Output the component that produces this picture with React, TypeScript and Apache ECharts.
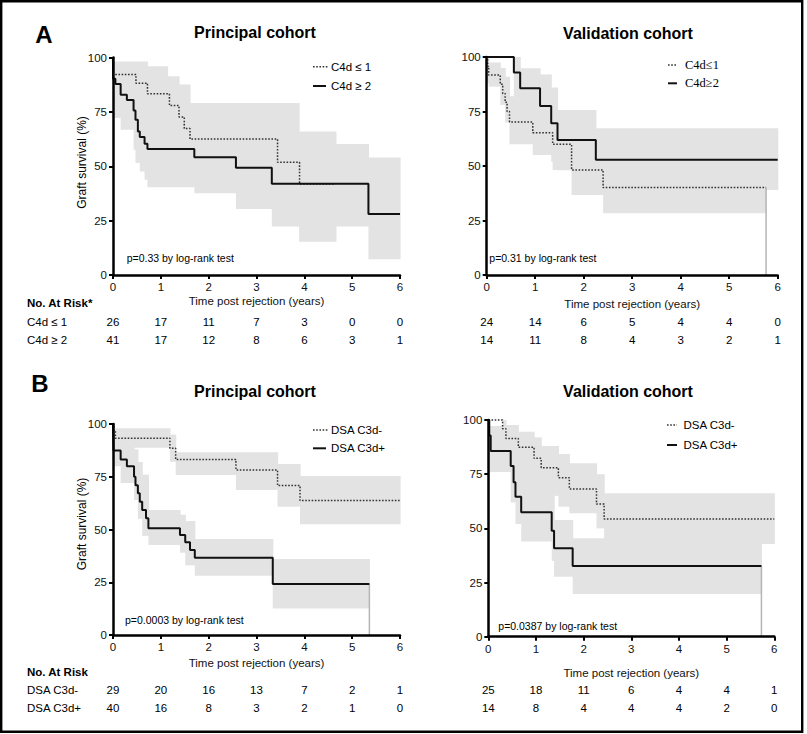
import React, { useEffect, useRef } from "react";
import * as echarts from "echarts";

// ---------- data ----------
const xTicks = [0, 1, 2, 3, 4, 5, 6];
const xTickLabels = ["0", "1", "2", "3", "4", "5", "6"];
const yTickLabels = ["0", "25", "50", "75", "100"];

// Panel A – principal cohort
const aPrinC4dLow = [[0, 100], [0, 92.2], [0.48, 88.2], [0.72, 83.3], [1.18, 77.9], [1.38, 72.7], [1.49, 67.3], [1.61, 62.5], [3.44, 51.8], [3.9, 41.8], [4.64, 41.8]];
const aPrinC4dHigh = [[0, 100], [0, 90.2], [0.05, 87.8], [0.16, 82.9], [0.29, 80.5], [0.43, 75.6], [0.47, 71.4], [0.52, 66], [0.56, 63.4], [0.66, 60.4], [0.72, 57.9], [1.7, 54.1], [2.57, 49.3], [3.32, 42], [5.34, 28], [6, 28]];
const aPrinBandLow = [[0, 0.48, 74, 98.2], [0.48, 0.72, 68, 98.2], [0.72, 1.14, 64, 96], [1.14, 1.38, 58, 91.4], [1.38, 1.61, 52, 87.6], [1.61, 3.44, 42, 79.1], [3.44, 3.89, 31, 79.1], [3.89, 4.66, 15.3, 66]];
const aPrinBandHigh = [[0, 0.16, 72.2, 97], [0.16, 0.43, 66.8, 95], [0.43, 0.47, 57.6, 92], [0.47, 0.56, 51.5, 88], [0.56, 0.66, 47.6, 84], [0.66, 0.72, 43.8, 80], [0.72, 1.7, 40.3, 75], [1.7, 2.57, 37.6, 72], [2.57, 3.32, 30.4, 68], [3.32, 5.34, 22.3, 60.2], [5.34, 6, 7.2, 54]];
const aPrinRiskLow = [26, 17, 11, 7, 3, 0, 0];
const aPrinRiskHigh = [41, 17, 12, 8, 6, 3, 1];

// Panel A – validation cohort
const aValC4dLow = [[0, 100], [0.02, 95.8], [0.04, 91.7], [0.28, 87.5], [0.33, 83.3], [0.38, 79.2], [0.42, 75], [0.47, 70.2], [0.95, 65.3], [1.36, 60], [1.75, 48.2], [2.4, 40.1], [5.76, 40.1]];
const aValC4dLowDrop = [[5.76, 40.1], [5.76, 0]];
const aValC4dHigh = [[0, 100], [0.56, 92.9], [0.69, 85.7], [1.1, 77.5], [1.33, 69.6], [1.46, 61.9], [2.25, 52.9], [6, 52.9]];
const aValBandLow = [[0, 0.04, 88, 100], [0.04, 0.28, 86.4, 97.5], [0.28, 0.38, 78, 95], [0.38, 0.47, 70, 91], [0.47, 0.95, 60, 82], [0.95, 1.36, 55, 78], [1.36, 1.75, 48.2, 73], [1.75, 2.4, 36.7, 65], [2.4, 5.76, 28.3, 52]];
const aValBandHigh = [[0.56, 0.69, 80, 100], [0.69, 1.1, 70, 94.8], [1.1, 1.33, 58, 92], [1.33, 1.46, 52, 86], [1.46, 2.25, 48, 75.7], [2.25, 6, 39, 67.3]];
const aValRiskLow = [24, 14, 6, 5, 4, 4, 0];
const aValRiskHigh = [14, 11, 8, 4, 3, 2, 1];

// Panel B – principal cohort
const bPrinNeg = [[0, 100], [0.02, 96.6], [0.05, 93.3], [1.19, 88.5], [1.31, 83.2], [2.57, 78.2], [3.44, 70.8], [3.91, 63.7], [6, 63.7]];
const bPrinPos = [[0, 100], [0.01, 87.5], [0.16, 83.2], [0.29, 80], [0.44, 75], [0.47, 71], [0.52, 67.2], [0.56, 63.2], [0.61, 59.2], [0.69, 55.3], [0.74, 50.6], [1.4, 47.4], [1.51, 43.9], [1.61, 40.3], [1.71, 36.6], [3.34, 24.2], [5.36, 24.2]];
const bPrinPosDrop = [[5.36, 24.2], [5.36, 0]];
const bPrinBandNeg = [[0.04, 1.19, 88.8, 98], [1.19, 1.31, 82.1, 95], [1.31, 2.57, 75.8, 86.6], [2.57, 3.44, 68.7, 86.6], [3.44, 3.91, 60.8, 81], [3.91, 6, 52.5, 75.4]];
const bPrinBandPos = [[0, 0.16, 80, 96], [0.16, 0.44, 72, 92], [0.44, 0.52, 64, 88], [0.52, 0.61, 55, 82], [0.61, 0.74, 47, 76], [0.74, 1.4, 42.6, 59.2], [1.4, 1.51, 39, 57], [1.51, 1.71, 33, 54], [1.71, 3.34, 28.1, 45.5], [3.34, 5.36, 12.6, 36]];
const bPrinRiskNeg = [29, 20, 16, 13, 7, 2, 1];
const bPrinRiskPos = [40, 16, 8, 3, 2, 1, 0];

// Panel B – validation cohort
const bValNeg = [[0, 100], [0.3, 96], [0.37, 91.5], [0.63, 87.4], [0.96, 82.3], [1.11, 78], [1.47, 73.4], [1.7, 68.2], [2.27, 61.2], [2.43, 54.3], [6, 54.3]];
const bValPos = [[0, 100], [0.02, 92.9], [0.05, 85.7], [0.47, 78.8], [0.53, 71.3], [0.57, 64.6], [0.69, 57.4], [1.33, 48.9], [1.38, 40.8], [1.77, 32.6], [5.73, 32.6]];
const bValPosDrop = [[5.73, 32.6], [5.73, 0]];
const bValBandNeg = [[0.3, 0.37, 88, 100], [0.37, 0.63, 82, 97.7], [0.63, 0.96, 76, 94.6], [0.96, 1.11, 70, 92], [1.11, 1.47, 65, 88], [1.47, 1.7, 60, 84.3], [1.7, 2.27, 57, 80], [2.27, 2.43, 50, 75], [2.43, 6, 42.8, 66.2]];
const bValBandPos = [[0, 0.47, 76, 97.2], [0.47, 0.57, 62, 93], [0.57, 0.69, 52, 88], [0.69, 1.33, 43.9, 81.6], [1.33, 1.38, 35, 70], [1.38, 1.77, 27.7, 53.9], [1.77, 5.73, 19.7, 45.4]];
const bValRiskNeg = [25, 18, 11, 6, 4, 4, 1];
const bValRiskPos = [14, 8, 4, 4, 4, 2, 0];

// ---------- style ----------
const SANS = '"Liberation Sans", Arial, sans-serif';
const SERIF = '"Liberation Serif", "Times New Roman", serif';
const BAND = "#e3e3e3";
const SOLID = "#111";
const DOT = "#333";

const panels = [
  { left: 113, top: 57.5, width: 287, height: 217.5, nameGap: 19.5 },
  { left: 486.7, top: 57, width: 291, height: 218, nameGap: 23 },
  { left: 113, top: 424, width: 287, height: 211, nameGap: 21.5 },
  { left: 488.3, top: 420, width: 286, height: 216.7, nameGap: 30 },
];

function bandSeries(data: number[][], idx: number) {
  return {
    type: "custom",
    xAxisIndex: idx,
    yAxisIndex: idx,
    z: 1,
    silent: true,
    clip: false,
    data,
    encode: { x: [0, 1], y: [2, 3] },
    renderItem: (_p: any, api: any) => {
      const a = api.coord([api.value(0), api.value(3)]);
      const b = api.coord([api.value(1), api.value(2)]);
      return {
        type: "rect",
        shape: { x: a[0], y: a[1], width: b[0] - a[0] + 0.6, height: b[1] - a[1] },
        style: { fill: BAND },
      };
    },
  };
}

function curve(data: number[][], idx: number, dotted: boolean) {
  return {
    type: "line",
    xAxisIndex: idx,
    yAxisIndex: idx,
    data,
    step: "end",
    symbol: "none",
    showSymbol: false,
    clip: false,
    z: 3,
    silent: true,
    lineStyle: dotted
      ? { color: DOT, width: 1.5, type: [1.6, 1.6] }
      : { color: SOLID, width: 2 },
  };
}

function drop(data: number[][], idx: number) {
  return {
    type: "line",
    xAxisIndex: idx,
    yAxisIndex: idx,
    data,
    symbol: "none",
    showSymbol: false,
    clip: false,
    z: 2,
    silent: true,
    lineStyle: { color: "#b5b5b5", width: 1.5 },
  };
}

function txt(text: string, x: number, y: number, font: string, align = "left", rotation = 0) {
  return {
    type: "text",
    x,
    y,
    rotation,
    z: 10,
    style: { text, font, fill: "#000", align, verticalAlign: "middle" },
  };
}

function legendItem(x0: number, x1: number, y: number, dotted: boolean, label: string, tx: number, font: string) {
  return [
    {
      type: "line",
      z: 10,
      shape: { x1: x0, y1: y, x2: x1, y2: y },
      style: dotted
        ? { stroke: DOT, lineWidth: 1.5, lineDash: [1.6, 1.6] }
        : { stroke: SOLID, lineWidth: 2 },
    },
    txt(label, tx, y, font),
  ];
}

function riskRow(values: number[], p: number, y: number) {
  const pn = panels[p];
  return values.map((v, i) =>
    txt(String(v), pn.left + (xTicks[i] / 6) * pn.width, y, `11.5px ${SANS}`, "center")
  );
}

export default function App() {
  const ref = useRef<HTMLDivElement>(null);
  useEffect(() => {
    if (!ref.current) return;
    const chart = echarts.init(ref.current, undefined, { renderer: "svg" });

    const grid = panels.map((p) => ({ left: p.left, top: p.top, width: p.width, height: p.height, containLabel: false }));
    const axisLine = { show: true, onZero: false, lineStyle: { color: "#000", width: 2.5 } };
    const axisTick = { show: true, length: 4, inside: false, lineStyle: { color: "#000", width: 2 } };
    const xAxis = panels.map((p, i) => ({
      type: "value",
      gridIndex: i,
      min: 0,
      max: 6,
      interval: 1,
      z: 5,
      axisLine,
      axisTick,
      splitLine: { show: false },
      axisLabel: { margin: 6, color: "#111", fontFamily: SANS, fontSize: 11.5, formatter: (v: number) => xTickLabels[v] },
      name: "Time post rejection (years)",
      nameLocation: "middle",
      nameGap: p.nameGap,
      nameTextStyle: { color: "#111", fontFamily: SANS, fontSize: 11.5 },
    }));
    const yAxis = panels.map((_p, i) => ({
      type: "value",
      gridIndex: i,
      min: 0,
      max: 100,
      interval: 25,
      z: 5,
      axisLine,
      axisTick,
      splitLine: { show: false },
      axisLabel: { margin: 6, color: "#111", fontFamily: SANS, fontSize: 11.5, formatter: (v: number) => yTickLabels[v / 25] },
    }));

    const series: any[] = [
      bandSeries(aPrinBandLow, 0), bandSeries(aPrinBandHigh, 0),
      curve(aPrinC4dLow, 0, true), curve(aPrinC4dHigh, 0, false),
      bandSeries(aValBandLow, 1), bandSeries(aValBandHigh, 1),
      drop(aValC4dLowDrop, 1),
      curve(aValC4dLow, 1, true), curve(aValC4dHigh, 1, false),
      bandSeries(bPrinBandNeg, 2), bandSeries(bPrinBandPos, 2),
      drop(bPrinPosDrop, 2),
      curve(bPrinNeg, 2, true), curve(bPrinPos, 2, false),
      bandSeries(bValBandNeg, 3), bandSeries(bValBandPos, 3),
      drop(bValPosDrop, 3),
      curve(bValNeg, 3, true), curve(bValPos, 3, false),
    ];

    const F = `11.5px ${SANS}`;
    const FB = `bold 11.5px ${SANS}`;
    const T = `bold 16px ${SANS}`;
    const L = `bold 24px ${SANS}`;
    const P = `10.5px ${SANS}`;
    const Y = `12px ${SANS}`;

    const graphic: any[] = [
      { type: "rect", z: 10, shape: { x: 1.2, y: 1.2, width: 801, height: 730.5 }, style: { fill: "none", stroke: "#000", lineWidth: 2.4 } },
      txt("A", 44, 34, L, "center"),
      txt("B", 40, 383, L, "center"),
      txt("Principal cohort", 255, 32, T, "center"),
      txt("Validation cohort", 628, 33, T, "center"),
      txt("Principal cohort", 255, 391.5, T, "center"),
      txt("Validation cohort", 628, 391, T, "center"),
      txt("Graft survival (%)", 82, 162.5, Y, "center", Math.PI / 2),
      txt("Graft survival (%)", 82, 524, Y, "center", Math.PI / 2),
      ...legendItem(313, 328, 66.7, true, "C4d ≤ 1", 331, F),
      ...legendItem(313, 326, 86, false, "C4d ≥ 2", 331, F),
      ...legendItem(668, 677, 65, true, "C4d≤1", 685, `12.5px ${SERIF}`),
      ...legendItem(668, 677, 83.3, false, "C4d≥2", 685, `12.5px ${SERIF}`),
      ...legendItem(313, 328, 430, true, "DSA C3d-", 331, F),
      ...legendItem(313, 326, 448.3, false, "DSA C3d+", 331, F),
      ...legendItem(667, 677, 425, true, "DSA C3d-", 683.5, F),
      ...legendItem(667, 677, 445, false, "DSA C3d+", 683.5, F),
      txt("p=0.33 by log-rank test", 126.7, 258.3, P),
      txt("p=0.31 by log-rank test", 489.3, 257.7, P),
      txt("p=0.0003 by log-rank test", 125, 620, P),
      txt("p=0.0387 by log-rank test", 498.3, 625.7, P),
      txt("No. At Risk*", 27, 303.3, FB),
      txt("C4d ≤ 1", 27, 321.7, F),
      txt("C4d ≥ 2", 27, 340, F),
      ...riskRow(aPrinRiskLow, 0, 321.7),
      ...riskRow(aPrinRiskHigh, 0, 340),
      ...riskRow(aValRiskLow, 1, 321.7),
      ...riskRow(aValRiskHigh, 1, 340),
      txt("No. At Risk", 27, 672.3, FB),
      txt("DSA C3d-", 27, 690, F),
      txt("DSA C3d+", 27, 707.7, F),
      ...riskRow(bPrinRiskNeg, 2, 690),
      ...riskRow(bPrinRiskPos, 2, 707.7),
      ...riskRow(bValRiskNeg, 3, 690),
      ...riskRow(bValRiskPos, 3, 707.7),
    ];

    chart.setOption({
      animation: false,
      backgroundColor: "#fff",
      textStyle: { fontFamily: SANS },
      grid,
      xAxis,
      yAxis,
      series,
      graphic,
    });
    return () => chart.dispose();
  }, []);
  return (
    <div
      ref={ref}
      style={{ position: "fixed", left: 0, top: 0, width: 807, height: 734, background: "#fff" }}
    />
  );
}
